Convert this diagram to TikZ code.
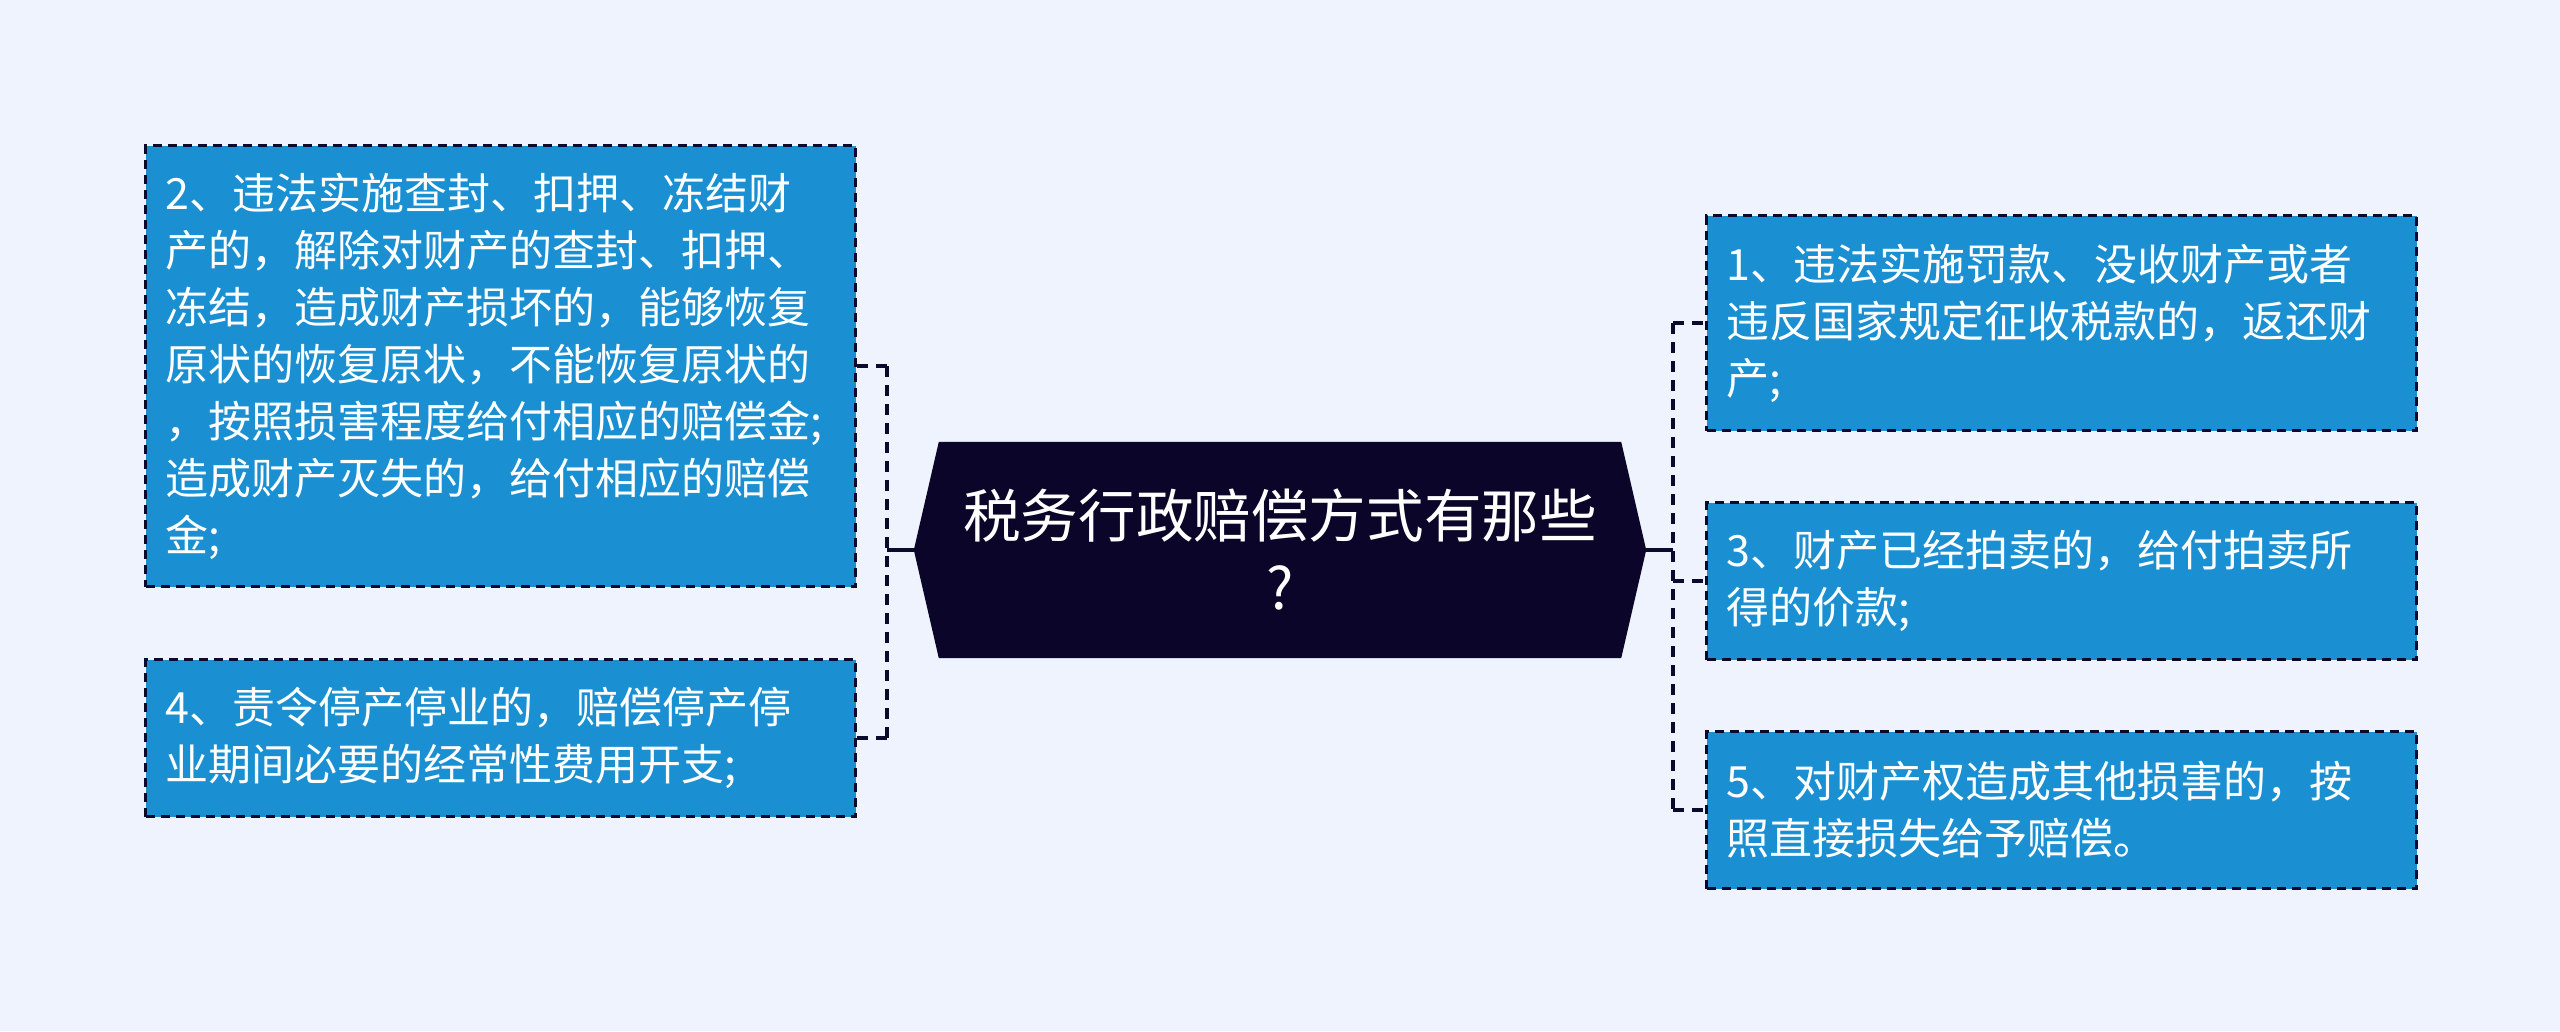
\documentclass[tikz,border=0pt]{standalone}
\usepackage{fontspec}
\setmainfont{Noto Sans CJK SC}
\usetikzlibrary{calc}
\definecolor{bg}{HTML}{EEF3FD}
\definecolor{boxfill}{HTML}{1A90D2}
\definecolor{navy}{HTML}{0A0A2C}
\definecolor{hubfill}{HTML}{0B0629}
\pgfdeclarelayer{back}
\pgfsetlayers{back,main}
\begin{document}
\begin{tikzpicture}[x=1pt,y=-1pt,
 leaf/.style={draw=navy, dash pattern=on 9pt off 6pt, line width=3pt, fill=boxfill, text=white,
   inner sep=0pt, minimum width=710pt, text width=670pt, align=left,
   font=\fontsize{43}{57}\selectfont, anchor=north west},
 link/.style={draw=navy, line width=4.5pt, dash pattern=on 11pt off 8pt},
 solidlink/.style={draw=navy, line width=4.5pt},
]
\begin{pgfonlayer}{back}
\fill[bg] (0,0) rectangle (2560,1031);
\end{pgfonlayer}
\useasboundingbox (0,0) rectangle (2560,1031);

\node (hubnode) at (1280,550) [minimum width=682pt, minimum height=216pt, inner sep=0pt,
  text=white, align=center, font=\fontsize{57.6}{72}\selectfont] {税务行政赔偿方式有那些\\?};
\coordinate (ltip) at ($(hubnode.west)+(-25,0)$);
\coordinate (rtip) at ($(hubnode.east)+(25,0)$);
\begin{pgfonlayer}{back}
\fill[hubfill] (hubnode.north west) -- (hubnode.north east) -- (rtip) -- (hubnode.south east)
  -- (hubnode.south west) -- (ltip) -- cycle;
\end{pgfonlayer}

\node[leaf, minimum height=441pt] (A) at (144,144) {2、违法实施查封、扣押、冻结财\\产的，解除对财产的查封、扣押、\\冻结，造成财产损坏的，能够恢复\\原状的恢复原状，不能恢复原状的\\，按照损害程度给付相应的赔偿金;\\造成财产灭失的，给付相应的赔偿\\金;};
\node[leaf, minimum height=157pt] (B) at (144,658) {4、责令停产停业的，赔偿停产停\\业期间必要的经常性费用开支;};

\node[leaf, minimum height=215pt] (R1) at (1705,214) {1、违法实施罚款、没收财产或者\\违反国家规定征收税款的，返还财\\产;};
\node[leaf, minimum height=157pt] (R3) at (1705,501) {3、财产已经拍卖的，给付拍卖所\\得的价款;};
\node[leaf, minimum height=157pt] (R5) at (1705,730) {5、对财产权造成其他损害的，按\\照直接损失给予赔偿。};

% left connectors
\draw[solidlink] (ltip) -- ++(-27,0) coordinate (lbus);
\draw[link] (lbus |- A.east) -- (lbus |- B.east);
\draw[link] (lbus |- A.east) -- (A.east);
\draw[link] (lbus |- B.east) -- (B.east);

% right connectors
\draw[solidlink] (rtip) -- ++(27,0) coordinate (rbus);
\draw[link] (rbus |- R1.west) -- (rbus |- R5.west);
\draw[link] (rbus |- R1.west) -- (R1.west);
\draw[link] (rbus |- R3.west) -- (R3.west);
\draw[link] (rbus |- R5.west) -- (R5.west);
\end{tikzpicture}
\end{document}
